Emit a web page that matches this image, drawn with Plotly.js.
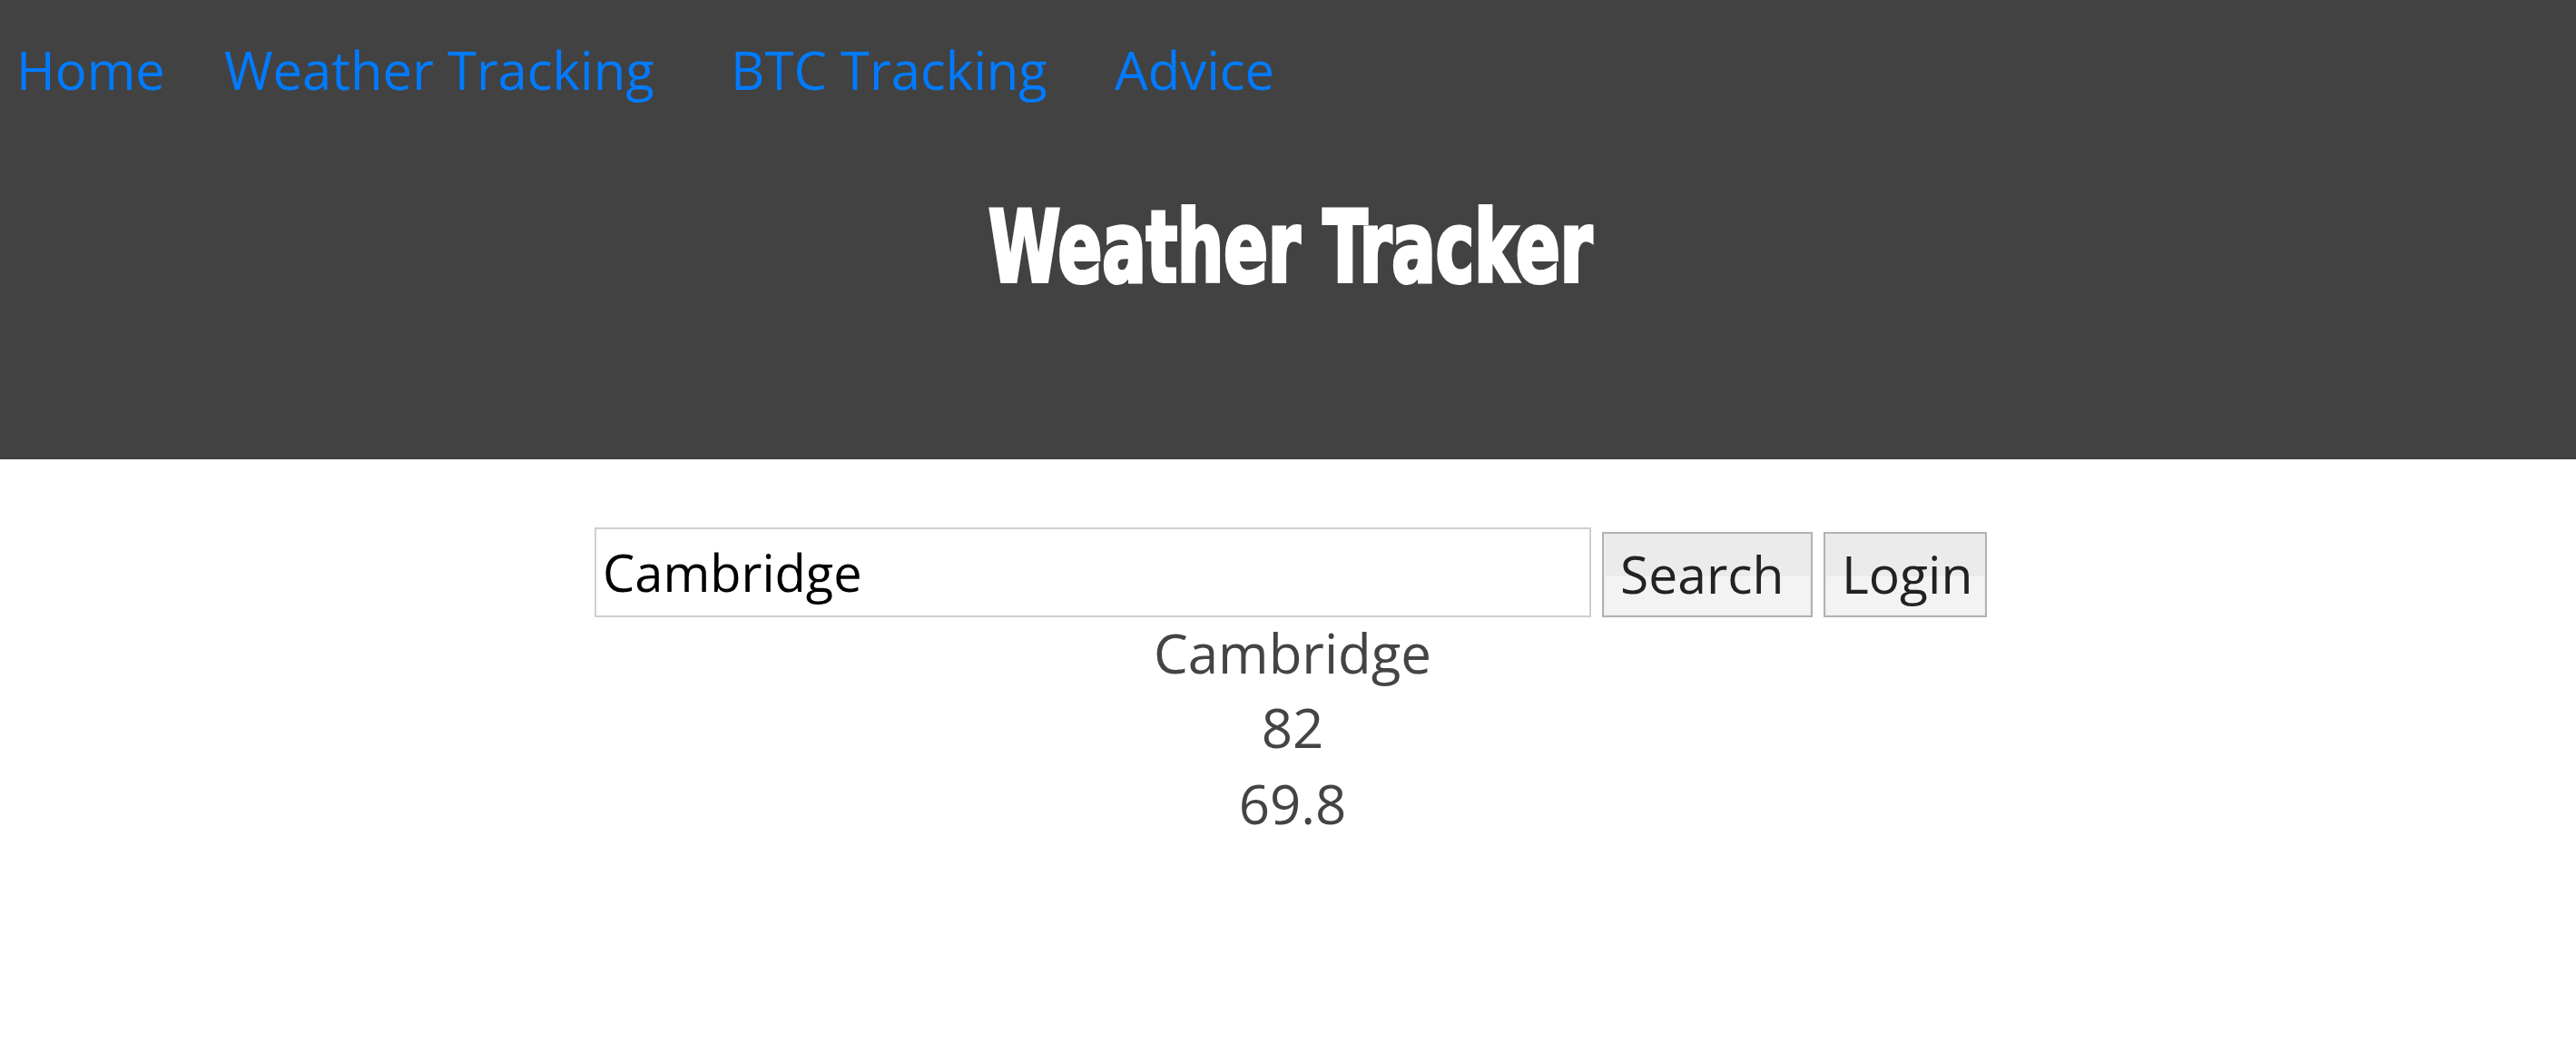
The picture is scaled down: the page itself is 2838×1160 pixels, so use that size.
<!DOCTYPE html>
<html>
<head>
<meta charset="utf-8">
<script src="https://cdn.plot.ly/plotly-3.0.1.min.js"></script>
<style>
  html, body { margin: 0; padding: 0; background: #fff; overflow: hidden; }
  #page { width: 2838px; height: 1160px; }
</style>
</head>
<body>
<div id="page"></div>
<script>
// page content
const navLabels = ['Home', 'Weather Tracking', 'BTC Tracking', 'Advice'];
const pageTitle = 'Weather Tracker';
const searchValue = 'Cambridge';
const buttonLabels = ['Search', 'Login'];
const resultLines = ['Cambridge', 82, 69.8];

// layout constants (px)
const W = 2838, H = 1160;
const navLeft = [16, 245, 803, 1226];
const buttonBoxes = [[1766, 1996], [2010, 2188]];
const buttonTextLeft = [1783, 2027];
const resultY = [727, 809, 893];

const navFont = { family: 'Open Sans, Lato, sans-serif', size: 58, color: '#007bff' };
const bodyFont = { family: 'Open Sans, Lato, sans-serif', size: 60, color: '#444444' };

const shapes = [
  // header band
  { type: 'rect', xref: 'x', yref: 'y', x0: 0, x1: W, y0: 0, y1: 506,
    fillcolor: '#424242', line: { width: 0 }, layer: 'below' },
  // search input
  { type: 'rect', xref: 'x', yref: 'y', x0: 656, x1: 1752, y0: 582, y1: 679,
    fillcolor: '#ffffff', line: { color: '#cfcfcf', width: 2 }, layer: 'below' }
];
buttonBoxes.forEach(b => {
  shapes.push({ type: 'rect', xref: 'x', yref: 'y', x0: b[0], x1: b[1], y0: 587, y1: 679,
    fillcolor: '#ebebeb', line: { color: '#b2b2b2', width: 2 }, layer: 'below' });
  shapes.push({ type: 'rect', xref: 'x', yref: 'y', x0: b[0] + 2, x1: b[1] - 2, y0: 635, y1: 677,
    fillcolor: '#f3f3f3', line: { width: 0 }, layer: 'below' });
});

const annotations = [];
navLabels.forEach((t, i) => {
  annotations.push({ text: t, x: navLeft[i], y: 76, xref: 'x', yref: 'y',
    xanchor: 'left', yanchor: 'middle', showarrow: false, font: navFont });
});
annotations.push({ text: pageTitle, x: 1421, y: 272, xref: 'x', yref: 'y',
  xanchor: 'center', yanchor: 'middle', showarrow: false,
  font: { family: 'DejaVu Sans Condensed, DejaVu Sans, sans-serif',
          size: 108, weight: 'bold', color: '#ffffff' } });
annotations.push({ text: searchValue, x: 662, y: 630, xref: 'x', yref: 'y',
  xanchor: 'left', yanchor: 'middle', showarrow: false,
  font: { family: 'Open Sans, Lato, sans-serif', size: 56, color: '#000000' } });
buttonLabels.forEach((t, i) => {
  annotations.push({ text: t, x: buttonTextLeft[i], y: 632, xref: 'x', yref: 'y',
    xanchor: 'left', yanchor: 'middle', showarrow: false,
    font: { family: 'Open Sans, Lato, sans-serif', size: 57, color: '#222222' } });
});

const resultTrace = {
  type: 'scatter',
  mode: 'text',
  x: resultLines.map(() => 1424),
  y: resultY,
  text: resultLines.map(String),
  textposition: 'middle center',
  textfont: bodyFont,
  hoverinfo: 'skip',
  showlegend: false
};

const layout = {
  width: W,
  height: H,
  margin: { l: 0, r: 0, t: 0, b: 0 },
  paper_bgcolor: '#ffffff',
  plot_bgcolor: '#ffffff',
  xaxis: { range: [0, W], visible: false, fixedrange: true },
  yaxis: { range: [H, 0], visible: false, fixedrange: true },
  shapes: shapes,
  annotations: annotations,
  showlegend: false
};

Plotly.newPlot('page', [resultTrace], layout, { displayModeBar: false, staticPlot: true })
  .then(gd => {
    // the original title uses a condensed display face; squeeze ours to the same width
    gd.querySelectorAll('.annotation-text').forEach(el => {
      if (el.textContent === pageTitle) {
        el.style.transformBox = 'fill-box';
        el.style.transformOrigin = 'center';
        el.style.transform = 'scaleX(0.74)';
        el.style.stroke = '#ffffff';
        el.style.strokeWidth = '4px';
      }
    });
  });
</script>
</body>
</html>
